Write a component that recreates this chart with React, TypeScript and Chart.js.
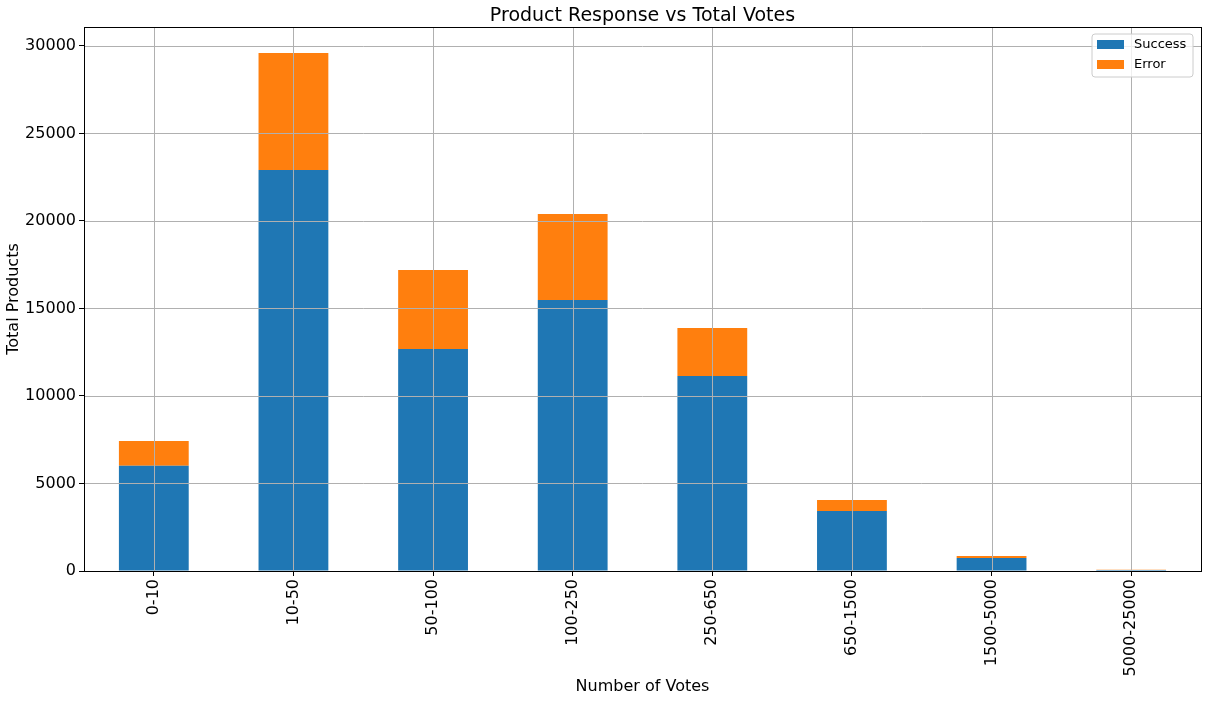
import React, { useEffect, useRef } from "react";
import { Chart, registerables } from "chart.js";

Chart.register(...registerables);

const categories = ["0-10", "10-50", "50-100", "100-250", "250-650", "650-1500", "1500-5000", "5000-25000"];
const successValues = [6020, 22910, 12690, 15490, 11140, 3430, 740, 60];
const errorValues = [1410, 6690, 4510, 4910, 2750, 630, 120, 10];
const yTicks = [0, 5000, 10000, 15000, 20000, 25000, 30000];
const seriesNames = ["Success", "Error"];
const chartTitle = "Product Response vs Total Votes";
const xTitle = "Number of Votes";
const yTitle = "Total Products";

const BLUE = "#1f77b4";
const ORANGE = "#ff7f0e";
const GRID = "#b0b0b0";
const FONT = "'DejaVu Sans', sans-serif";

const decorPlugin = {
  id: "decor",
  afterDatasetsDraw(chart: any) {
    const ctx = chart.ctx;
    const a = chart.chartArea;
    const xs = chart.scales.x;
    const ys = chart.scales.y;
    ctx.save();
    ctx.strokeStyle = GRID;
    ctx.lineWidth = 1;
    ctx.beginPath();
    for (let i = 0; i < categories.length; i++) {
      const x = Math.round(xs.getPixelForValue(i)) + 0.5;
      ctx.moveTo(x, a.top);
      ctx.lineTo(x, a.bottom);
    }
    for (const v of yTicks) {
      const y = Math.round(ys.getPixelForValue(v)) + 0.5;
      ctx.moveTo(a.left, y);
      ctx.lineTo(a.right, y);
    }
    ctx.stroke();
    ctx.restore();
  },
  afterDraw(chart: any) {
    const ctx = chart.ctx;
    const a = chart.chartArea;
    ctx.save();
    // frame
    ctx.strokeStyle = "#000";
    ctx.lineWidth = 1;
    ctx.strokeRect(Math.round(a.left) + 0.5, Math.round(a.top) + 0.5, Math.round(a.right - a.left), Math.round(a.bottom - a.top));
    // title
    ctx.fillStyle = "#000";
    ctx.textAlign = "center";
    ctx.textBaseline = "middle";
    ctx.font = `19px ${FONT}`;
    ctx.fillText(chartTitle, (a.left + a.right) / 2, 16);
    // x title
    ctx.font = `16px ${FONT}`;
    ctx.fillText(xTitle, (a.left + a.right) / 2, 687);
    // y title
    ctx.save();
    ctx.translate(14, (a.top + a.bottom) / 2);
    ctx.rotate(-Math.PI / 2);
    ctx.fillText(yTitle, 0, 0);
    ctx.restore();
    // legend
    const lx = a.right - 109;
    const ly = a.top + 7;
    const lw = 101;
    const lh = 43;
    ctx.fillStyle = "rgba(255,255,255,0.8)";
    ctx.strokeStyle = "#cccccc";
    ctx.beginPath();
    const r = 3;
    ctx.moveTo(lx + r, ly);
    ctx.lineTo(lx + lw - r, ly);
    ctx.arcTo(lx + lw, ly, lx + lw, ly + r, r);
    ctx.lineTo(lx + lw, ly + lh - r);
    ctx.arcTo(lx + lw, ly + lh, lx + lw - r, ly + lh, r);
    ctx.lineTo(lx + r, ly + lh);
    ctx.arcTo(lx, ly + lh, lx, ly + lh - r, r);
    ctx.lineTo(lx, ly + r);
    ctx.arcTo(lx, ly, lx + r, ly, r);
    ctx.closePath();
    ctx.fill();
    ctx.stroke();
    const colors = [BLUE, ORANGE];
    ctx.font = `13px ${FONT}`;
    ctx.textAlign = "left";
    for (let i = 0; i < seriesNames.length; i++) {
      const ry = ly + 6 + i * 20;
      ctx.fillStyle = colors[i];
      ctx.fillRect(lx + 5, ry, 27, 9);
      ctx.fillStyle = "#000";
      ctx.fillText(seriesNames[i], lx + 42, ry + 5);
    }
    ctx.restore();
  },
};

export default function App() {
  const ref = useRef<HTMLCanvasElement | null>(null);
  useEffect(() => {
    document.body.style.margin = "0";
    const canvas = ref.current;
    if (!canvas) return;
    Chart.defaults.font.family = FONT;
    const chart = new Chart(canvas, {
      type: "bar",
      data: {
        labels: categories,
        datasets: [
          { label: seriesNames[0], data: successValues, backgroundColor: BLUE, borderWidth: 0, barPercentage: 0.5, categoryPercentage: 1 },
          { label: seriesNames[1], data: errorValues, backgroundColor: ORANGE, borderWidth: 0, barPercentage: 0.5, categoryPercentage: 1 },
        ],
      },
      options: {
        animation: false,
        responsive: true,
        maintainAspectRatio: false,
        layout: { padding: { top: 27, right: 6, left: 0, bottom: 0 } },
        plugins: {
          legend: { display: false },
          title: { display: false },
          tooltip: { enabled: false },
        },
        scales: {
          x: {
            stacked: true,
            offset: true,
            grid: { display: true, offset: false, drawOnChartArea: false, color: GRID, tickColor: "#000", tickLength: 5 },
            border: { display: true, color: "#000" },
            ticks: { color: "#000", font: { size: 16 }, minRotation: 90, maxRotation: 90, padding: 3, autoSkip: false },
            afterFit(scale: any) {
              scale.height = 130;
            },
          },
          y: {
            stacked: true,
            min: 0,
            max: 31080,
            grid: { drawOnChartArea: false, color: GRID, tickColor: "#000", tickLength: 5 },
            border: { display: true, color: "#000" },
            ticks: {
              color: "#000",
              font: { size: 16 },
              padding: 3,
              callback: (v: any) => String(v),
            },
            afterBuildTicks(scale: any) {
              scale.ticks = yTicks.map((v) => ({ value: v }));
            },
            afterFit(scale: any) {
              scale.width = 84;
            },
          },
        },
      },
      plugins: [decorPlugin],
    });
    return () => chart.destroy();
  }, []);
  return (
    <div style={{ position: "relative", width: "1207px", height: "701px" }}>
      <canvas ref={ref} />
    </div>
  );
}
